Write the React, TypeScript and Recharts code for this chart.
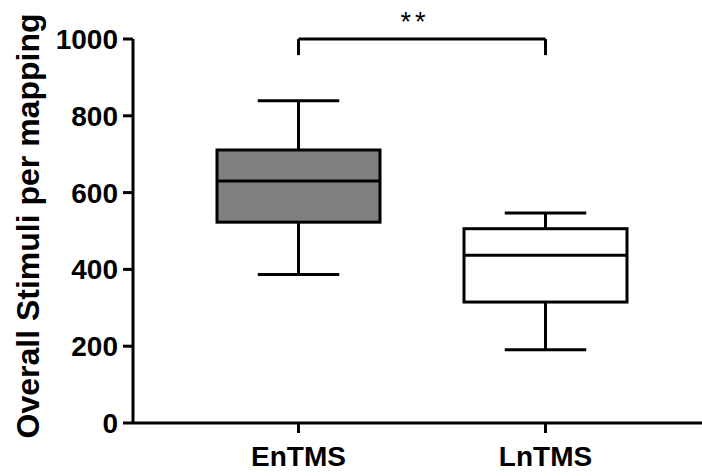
import React from 'react';
import { ComposedChart, Bar, XAxis, YAxis, ReferenceLine } from 'recharts';

const categories = ['EnTMS', 'LnTMS'];
const minValues = [387, 191];
const q1Values = [523, 315];
const medianValues = [630, 437];
const q3Values = [711, 506];
const maxValues = [839, 547];
const boxFills = ['#808080', '#ffffff'];
const yTicks = [0, 200, 400, 600, 800, 1000];
const bracketTop = 1000;
const bracketEnd = 958;
const sigLabel = '**';

const data = categories.map((name, i) => ({
  name,
  min: minValues[i],
  q1: q1Values[i],
  median: medianValues[i],
  q3: q3Values[i],
  max: maxValues[i],
  fill: boxFills[i],
  range: [minValues[i], maxValues[i]],
}));

const FONT = 'Arial, "Liberation Sans", sans-serif';

// whole box plot drawn from the [min, max] bar the library positions
function BoxShape(props: any) {
  const { x, y, width, height, payload } = props;
  const top = Math.min(y, y + height);
  const h = Math.abs(height);
  const { min, q1, median, q3, max, fill } = payload;
  const toY = (v: number) => top + (h * (max - v)) / (max - min);
  const cx = x + width / 2;
  const cap = width / 4;
  return (
    <g stroke="#000" strokeWidth={3} fill="none">
      <line x1={cx} x2={cx} y1={toY(max)} y2={toY(q3)} />
      <line x1={cx} x2={cx} y1={toY(q1)} y2={toY(min)} />
      <line x1={cx - cap} x2={cx + cap} y1={toY(max)} y2={toY(max)} />
      <line x1={cx - cap} x2={cx + cap} y1={toY(min)} y2={toY(min)} />
      <rect x={x} y={toY(q3)} width={width} height={toY(q1) - toY(q3)} fill={fill} />
      <line x1={x} x2={x + width} y1={toY(median)} y2={toY(median)} />
    </g>
  );
}

const YLabel = (props: any) => {
  const { viewBox } = props;
  const cx = 28;
  const cy = viewBox.y + viewBox.height / 2 - 5;
  return (
    <text
      x={cx}
      y={cy}
      transform={`rotate(-90, ${cx}, ${cy})`}
      textAnchor="middle"
      dominantBaseline="central"
      fill="#000"
      fontSize={32}
      fontWeight="bold"
      fontFamily={FONT}
    >
      Overall Stimuli per mapping
    </text>
  );
};

export default function App() {
  const tickStyle = { fill: '#000', fontSize: 28, fontWeight: 'bold', fontFamily: FONT };
  return (
    <div style={{ width: 702, height: 476, background: '#fff' }}>
      <style>{'body{margin:0}'}</style>
      <ComposedChart width={702} height={476} data={data} margin={{ top: 39, right: 0, bottom: 0, left: 0 }}>
        <XAxis
          dataKey="name"
          height={53}
          padding={{ left: 42, right: 33 }}
          axisLine={{ stroke: '#000', strokeWidth: 3 }}
          tickLine={{ stroke: '#000', strokeWidth: 3 }}
          tickSize={10}
          tickMargin={13}
          tick={tickStyle}
        />
        <YAxis
          width={133}
          domain={[0, 1000]}
          ticks={yTicks}
          axisLine={{ stroke: '#000', strokeWidth: 3 }}
          tickLine={{ stroke: '#000', strokeWidth: 3 }}
          tickSize={10}
          tickMargin={5}
          tick={tickStyle}
          label={<YLabel />}
        />
        <Bar dataKey="range" barSize={163} shape={<BoxShape />} isAnimationActive={false} />
        <ReferenceLine
          segment={[{ x: categories[0], y: bracketTop }, { x: categories[1], y: bracketTop }]}
          stroke="#000"
          strokeWidth={3}
          ifOverflow="visible"
          label={{ value: sigLabel, position: 'top', dx: -7, offset: 8, fill: '#000', fontSize: 27, fontFamily: FONT, letterSpacing: 4 }}
        />
        <ReferenceLine
          segment={[{ x: categories[0], y: bracketTop }, { x: categories[0], y: bracketEnd }]}
          stroke="#000"
          strokeWidth={3}
          ifOverflow="visible"
        />
        <ReferenceLine
          segment={[{ x: categories[1], y: bracketTop }, { x: categories[1], y: bracketEnd }]}
          stroke="#000"
          strokeWidth={3}
          ifOverflow="visible"
        />
      </ComposedChart>
    </div>
  );
}
